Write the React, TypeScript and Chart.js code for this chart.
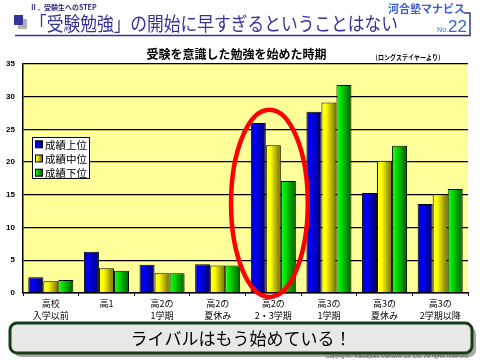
import React, { useEffect, useRef } from "react";
import { Chart, registerables } from "chart.js";

Chart.register(...registerables);

const categories: string[][] = [
  ["高校", "入学以前"],
  ["高1"],
  ["高2の", "1学期"],
  ["高2の", "夏休み"],
  ["高2の", "2・3学期"],
  ["高3の", "1学期"],
  ["高3の", "夏休み"],
  ["高3の", "2学期以降"],
];
const seriesNames = ["成績上位", "成績中位", "成績下位"];
const topValues = [2.4, 6.3, 4.3, 4.4, 26.0, 27.7, 15.3, 13.6];
const midValues = [1.8, 3.8, 3.0, 4.2, 22.6, 29.1, 20.2, 15.1];
const lowValues = [2.0, 3.4, 3.0, 4.2, 17.1, 31.8, 22.5, 15.9];
const yMin = 0;
const yMax = 35;
const yStep = 5;

const sectionLabel = "Ⅱ．受験生へのSTEP";
const mainTitle = "「受験勉強」の開始に早すぎるということはない";
const brand = "河合塾マナビス";
const issueNo = "22";
const chartTitle = "受験を意識した勉強を始めた時期";
const sourceNote = "（ロングステイヤーより）";
const bannerText = "ライバルはもう始めている！";
const copyright = "Copyright© Kawaijuku Manavis Co.,Ltd. All rights reserved";

const gradStops: [number, string][][] = [
  [[0, "#0000b8"], [0.3, "#0000ff"], [1, "#000060"]],
  [[0, "#ffff20"], [0.3, "#ffff00"], [1, "#6e6a00"]],
  [[0, "#20ff20"], [0.3, "#00e000"], [1, "#005800"]],
];
const solidColors = ["#0000ee", "#eeee00", "#00cc00"];

const JP = '"Noto Sans CJK JP", "Noto Sans", sans-serif';
const NUM = '"Liberation Sans", Arial, sans-serif';

const CAT_PCT = 0.81;

function makeGrad(ctx: CanvasRenderingContext2D, x0: number, x1: number, ds: number) {
  const g = ctx.createLinearGradient(x0, 0, x1, 0);
  gradStops[ds].forEach(([o, c]) => g.addColorStop(o, c));
  return g;
}

function barFill(context: any) {
  const chart = context.chart;
  const ds = context.datasetIndex;
  const xs = chart.scales && chart.scales.x;
  if (!chart.chartArea || !xs || context.dataIndex === undefined) return solidColors[ds];
  const cat = (chart.chartArea.right - chart.chartArea.left) / categories.length;
  const groupW = cat * CAT_PCT;
  const bw = groupW / 3;
  const cx = xs.getPixelForValue(context.dataIndex);
  const left = cx - groupW / 2 + ds * bw;
  return makeGrad(chart.ctx, left, left + bw, ds);
}

const pagePlugin = {
  id: "pageDecor",
  beforeDraw(chart: any) {
    const { ctx, chartArea: a } = chart;
    ctx.save();
    ctx.fillStyle = "#ffffff";
    ctx.fillRect(0, 0, chart.width, chart.height);
    ctx.fillStyle = "#ffff99";
    ctx.fillRect(a.left, a.top, a.right - a.left, a.bottom - a.top);
    ctx.restore();
  },
  afterDatasetsDraw(chart: any) {
    const { ctx } = chart;
    const xs = chart.scales.x;
    const ys = chart.scales.y;
    const cat = (chart.chartArea.right - chart.chartArea.left) / categories.length;
    // red ellipse around the 高2の2・3学期 group
    const cx = xs.getPixelForValue(3.93);
    const top = ys.getPixelForValue(28);
    const bottom = ys.getPixelForValue(-0.6);
    ctx.save();
    ctx.strokeStyle = "#ff0000";
    ctx.lineWidth = 4.5;
    ctx.beginPath();
    ctx.ellipse(cx, (top + bottom) / 2, cat * 0.69, (bottom - top) / 2, 0, 0, Math.PI * 2);
    ctx.stroke();
    ctx.restore();
  },
  afterDraw(chart: any) {
    const { ctx } = chart;
    ctx.save();
    // ---- header ----
    ctx.fillStyle = "#b0b0b0";
    ctx.fillRect(18, 19, 9, 10);
    ctx.fillStyle = "#33339a";
    ctx.fillRect(14, 15, 9, 10);

    ctx.fillStyle = "#2a2a80";
    ctx.font = `bold 7px ${JP}`;
    ctx.textBaseline = "middle";
    ctx.textAlign = "left";
    ctx.fillText(sectionLabel, 30, 7, 90);

    ctx.fillStyle = "#333399";
    ctx.font = `19px ${JP}`;
    ctx.textBaseline = "alphabetic";
    ctx.fillText(mainTitle, 30, 31, 368);

    ctx.strokeStyle = "#333399";
    ctx.lineWidth = 1.5;
    ctx.beginPath();
    ctx.moveTo(15, 35.5);
    ctx.lineTo(470, 35.5);
    ctx.lineTo(470, 13);
    ctx.lineTo(464, 13);
    ctx.stroke();

    ctx.fillStyle = "#3a5fd0";
    ctx.font = `bold 11px ${JP}`;
    ctx.textBaseline = "middle";
    ctx.textAlign = "right";
    ctx.fillText(brand, 465, 8.5, 82);

    ctx.fillStyle = "#3366cc";
    ctx.font = `17px ${NUM}`;
    ctx.textBaseline = "alphabetic";
    ctx.fillText(issueNo, 467, 32);
    ctx.font = `7px ${NUM}`;
    ctx.fillText("No.", 448, 32);

    // ---- chart title ----
    ctx.fillStyle = "#000000";
    ctx.textAlign = "center";
    ctx.textBaseline = "middle";
    ctx.font = `bold 12px ${JP}`;
    ctx.fillText(chartTitle, 236.5, 54);
    ctx.font = `bold 7px ${JP}`;
    ctx.fillText(sourceNote, 408, 57, 72);

    // ---- legend ----
    const lx = 32, ly = 137, lw = 57, lh = 41;
    ctx.fillStyle = "#ffffff";
    ctx.fillRect(lx, ly, lw, lh);
    ctx.strokeStyle = "#000000";
    ctx.lineWidth = 1;
    ctx.strokeRect(lx + 0.5, ly + 0.5, lw, lh);
    seriesNames.forEach((name, i) => {
      const cy = 144.3 + i * 14.2;
      ctx.fillStyle = makeGrad(ctx, 35, 42, i);
      ctx.fillRect(35, cy - 3.5, 7, 7);
      ctx.strokeStyle = "#000";
      ctx.strokeRect(35.5, cy - 3.5, 7, 7);
      ctx.fillStyle = "#000";
      ctx.textAlign = "left";
      ctx.textBaseline = "middle";
      ctx.font = `10.5px ${JP}`;
      ctx.fillText(name, 45, cy + 0.5, 42);
    });

    // ---- bottom banner ----
    const bx = 10, by = 323, bw = 462, bh = 30, r = 7;
    const rr = (x: number, y: number) => {
      ctx.beginPath();
      ctx.roundRect(x, y, bw, bh, r);
    };
    ctx.fillStyle = "#a8a8a8";
    rr(bx + 4, by + 4);
    ctx.fill();
    ctx.fillStyle = "#e8e8e6";
    rr(bx, by);
    ctx.fill();
    ctx.strokeStyle = "#153d15";
    ctx.lineWidth = 3;
    rr(bx, by);
    ctx.stroke();
    ctx.fillStyle = "#000";
    ctx.textAlign = "center";
    ctx.textBaseline = "middle";
    ctx.font = `17px ${JP}`;
    ctx.fillText(bannerText, 241, 338.5);

    ctx.fillStyle = "#555";
    ctx.font = `5.5px ${NUM}`;
    ctx.textAlign = "right";
    ctx.fillText(copyright, 468, 356.5, 206);
    ctx.restore();
  },
};

export default function App() {
  const ref = useRef<HTMLCanvasElement | null>(null);
  useEffect(() => {
    if (!ref.current) return;
    const chart = new Chart(ref.current, {
      type: "bar",
      data: {
        labels: categories as any,
        datasets: [topValues, midValues, lowValues].map((vals, i) => ({
          label: seriesNames[i],
          data: vals,
          backgroundColor: barFill,
          borderColor: "#000000",
          borderWidth: 1,
          borderSkipped: "bottom",
          categoryPercentage: CAT_PCT,
          barPercentage: 1,
        })),
      },
      options: {
        responsive: false,
        animation: false,
        layout: { padding: { top: 64, left: 0, right: 12, bottom: 0 } },
        plugins: {
          legend: { display: false },
          tooltip: { enabled: false },
          title: { display: false },
        },
        scales: {
          x: {
            afterFit: (s: any) => {
              s.height = 67;
            },
            grid: {
              display: true,
              drawOnChartArea: false,
              drawTicks: true,
              tickLength: 3,
              color: "#000000",
              offset: true,
            },
            border: { display: true, color: "#000000", width: 1.5 },
            ticks: {
              color: "#000000",
              font: { family: JP, size: 9, lineHeight: 1.4 },
              padding: 1,
              maxRotation: 0,
              autoSkip: false,
            },
          },
          y: {
            min: yMin,
            max: yMax,
            afterFit: (s: any) => {
              s.width = 23;
            },
            grid: { color: "#000000", lineWidth: 1.3, drawTicks: false },
            border: { display: true, color: "#000000", width: 1.5 },
            ticks: {
              stepSize: yStep,
              color: "#000000",
              font: { family: NUM, size: 8, weight: "bold" },
              padding: 8,
            },
          },
        },
      },
      plugins: [pagePlugin],
    });
    return () => chart.destroy();
  }, []);
  return (
    <div style={{ position: "absolute", left: 0, top: 0, width: 480, height: 360 }}>
      <canvas ref={ref} width={480} height={360} style={{ display: "block", width: 480, height: 360 }} />
    </div>
  );
}
